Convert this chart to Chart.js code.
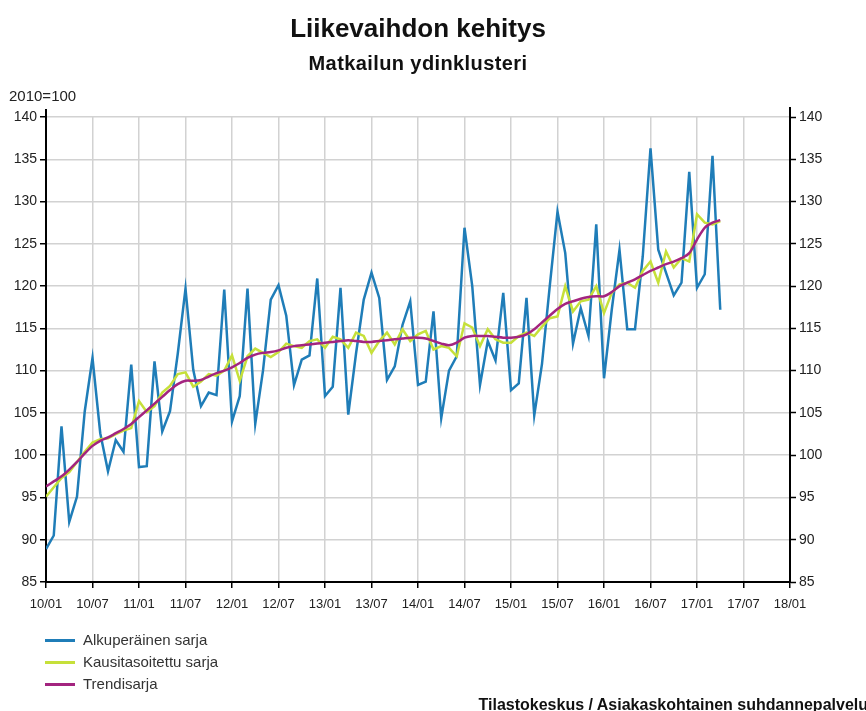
<!DOCTYPE html>
<html>
<head>
<meta charset="utf-8">
<script src="https://cdn.jsdelivr.net/npm/chart.js@4/dist/chart.umd.min.js"></script>
<style>
  html,body{margin:0;padding:0;background:#fff;}
  body{width:866px;height:711px;position:relative;overflow:hidden;font-family:"Liberation Sans",Arial,sans-serif;color:#222;}
  #wrap{position:absolute;left:0;top:0;width:866px;height:711px;}
  .t{position:absolute;white-space:nowrap;}
  #ttl{left:0;width:836px;text-align:center;top:13px;font-size:26px;font-weight:bold;color:#111;}
  #sub{left:0;width:836px;text-align:center;top:52px;font-size:20px;font-weight:bold;color:#111;letter-spacing:0.4px;}
  #base{left:9px;top:87px;font-size:15px;color:#222;}
  .lg{position:absolute;left:45px;font-size:15px;color:#333;}
  .lg i{display:inline-block;width:30px;height:3px;vertical-align:middle;margin-right:8px;position:relative;top:-1px;}
  #foot{right:-2px;top:696px;font-size:16px;font-weight:bold;color:#111;}
</style>
</head>
<body>
<div id="wrap"><canvas id="c" width="866" height="711"></canvas></div>
<div class="t" id="ttl">Liikevaihdon kehitys</div>
<div class="t" id="sub">Matkailun ydinklusteri</div>
<div class="t" id="base">2010=100</div>
<div class="lg" style="top:631px"><i style="background:#1f7db8"></i>Alkuperäinen sarja</div>
<div class="lg" style="top:653px"><i style="background:#c6e03a"></i>Kausitasoitettu sarja</div>
<div class="lg" style="top:675px"><i style="background:#a3247f"></i>Trendisarja</div>
<div class="t" id="foot">Tilastokeskus / Asiakaskohtainen suhdannepalvelu</div>
<script>
// x tick labels, one every 6 months starting 2010/01
const tickLabels=['10/01','10/07','11/01','11/07','12/01','12/07','13/01','13/07','14/01','14/07','15/01','15/07','16/01','16/07','17/01','17/07','18/01'];

// monthly series 2010/01 .. 2017/04
const alkuperainen=[88.9,90.5,103.4,92.1,95.1,105.2,111.5,102.6,98.1,101.8,100.4,110.7,
  98.6,98.7,111.1,102.8,105.2,112.0,119.7,110.1,105.8,107.4,107.1,119.6,
  104.0,107.0,119.7,103.7,110.0,118.4,120.1,116.5,108.3,111.3,111.8,120.9,
  107.0,108.1,119.8,104.8,112.0,118.4,121.6,118.6,108.9,110.5,115.4,118.2,
  108.3,108.7,117.0,104.4,110.0,111.7,126.9,120.0,108.3,113.5,111.2,119.2,
  107.7,108.5,118.6,104.7,110.8,120.0,128.8,123.9,113.2,117.4,114.1,127.3,
  109.1,117.2,124.3,114.9,114.9,123.5,136.3,124.3,121.6,118.9,120.4,133.5,
  119.8,121.4,135.4,117.2];
const kausitasoitettu=[95.1,96.2,97.3,98.0,99.2,100.4,101.5,101.9,102.0,102.5,102.9,103.2,
  106.4,105.1,105.8,107.4,108.2,109.6,109.8,108.1,108.7,109.6,109.4,110.0,
  111.8,108.8,111.7,112.6,112.1,111.6,112.2,113.2,112.9,112.7,113.5,113.7,
  112.7,114.0,113.7,112.7,114.5,114.1,112.1,113.5,114.5,113.1,114.9,113.5,
  114.3,114.7,112.5,112.9,112.7,111.7,115.6,115.1,112.9,114.9,113.7,113.3,
  113.3,114.1,114.5,114.1,115.2,116.2,116.4,120.0,117.0,118.2,118.4,120.0,
  116.8,119.2,120.2,120.4,119.8,121.8,122.9,120.4,124.1,122.2,123.3,122.9,
  128.5,127.5,127.3,127.7];
const trendi=[96.3,96.9,97.5,98.3,99.2,100.2,101.1,101.7,102.1,102.6,103.1,103.7,
  104.5,105.3,106.1,106.9,107.7,108.4,108.8,108.8,108.9,109.3,109.7,110.0,
  110.4,110.9,111.5,111.9,112.1,112.2,112.4,112.7,112.9,113.0,113.1,113.2,
  113.3,113.4,113.5,113.6,113.5,113.4,113.4,113.5,113.6,113.7,113.8,113.9,
  113.9,113.8,113.5,113.2,113.0,113.3,113.9,114.1,114.1,114.1,114.0,113.9,
  113.9,114.0,114.3,114.9,115.7,116.5,117.3,117.9,118.2,118.5,118.7,118.8,
  118.8,119.3,120.0,120.4,120.8,121.3,121.8,122.2,122.6,122.9,123.3,123.9,
  125.5,126.9,127.5,127.8];

const pts=a=>a.map((v,i)=>({x:i,y:v}));
const fam='"Liberation Sans", Arial, sans-serif';

// extend the black vertical axis lines a little past the plot like the original
const axisExt={id:'axisExt',afterDraw(ch){
  const a=ch.chartArea,ctx=ch.ctx;
  ctx.save();ctx.strokeStyle='#000';ctx.lineWidth=2;
  ctx.beginPath();
  ctx.moveTo(a.left,a.top-8);ctx.lineTo(a.left,a.top);
  ctx.moveTo(a.right,a.top-10);ctx.lineTo(a.right,a.top);
  ctx.stroke();ctx.restore();
}};

new Chart(document.getElementById('c'),{
  type:'line',
  data:{datasets:[
    {label:'Alkuperäinen sarja',data:pts(alkuperainen),borderColor:'#1f7db8',borderWidth:2.5,pointRadius:0,tension:0,order:3},
    {label:'Kausitasoitettu sarja',data:pts(kausitasoitettu),borderColor:'#c6e03a',borderWidth:2.5,pointRadius:0,tension:0,order:2},
    {label:'Trendisarja',data:pts(trendi),borderColor:'#a3247f',borderWidth:2.5,pointRadius:0,tension:0.3,order:1}
  ]},
  options:{
    responsive:false,animation:false,
    layout:{padding:{left:0,right:0,top:117,bottom:99}},
    plugins:{legend:{display:false},tooltip:{enabled:false}},
    scales:{
      x:{type:'linear',min:0,max:96,
        afterBuildTicks:s=>{s.ticks=tickLabels.map((_,k)=>({value:k*6}));},
        afterFit:s=>{s.height=30;},
        ticks:{callback:v=>tickLabels[v/6],color:'#222',font:{family:fam,size:13},maxRotation:0,autoSkip:false,padding:9},
        grid:{color:'#d2d2d2',lineWidth:1.5,tickColor:'#000',tickLength:6,tickWidth:1.5},
        border:{color:'#000',width:2}},
      y:{position:'left',min:85,max:140,
        afterFit:s=>{s.width=46;},
        ticks:{stepSize:5,color:'#222',font:{family:fam,size:14},padding:3},
        grid:{color:'#d2d2d2',lineWidth:1.5,tickColor:'#000',tickLength:6,tickWidth:1.5},
        border:{color:'#000',width:2}},
      y2:{position:'right',min:85,max:140,
        afterFit:s=>{s.width=76;},
        ticks:{stepSize:5,color:'#222',font:{family:fam,size:14},padding:3},
        grid:{drawOnChartArea:false,tickColor:'#000',tickLength:6,tickWidth:1.5},
        border:{color:'#000',width:2}}
    }
  },
  plugins:[axisExt]
});
</script>
</body>
</html>
